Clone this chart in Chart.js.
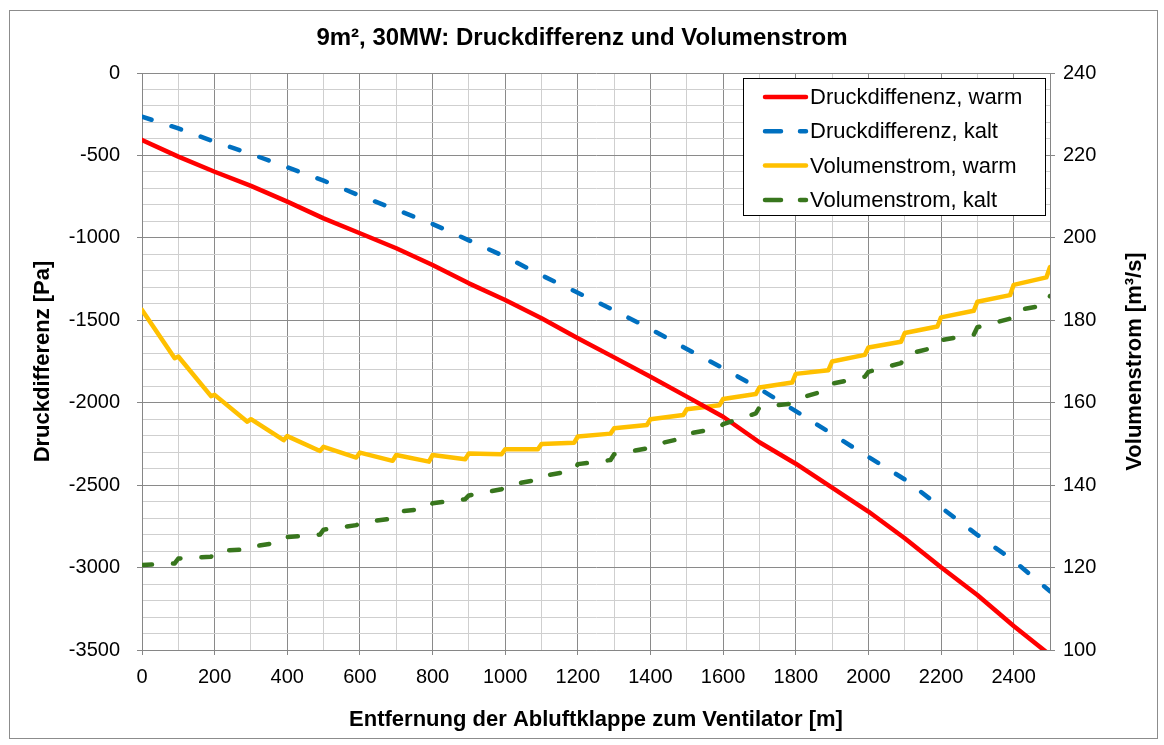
<!DOCTYPE html>
<html><head><meta charset="utf-8">
<script src="https://cdn.jsdelivr.net/npm/chart.js@4.4.1/dist/chart.umd.min.js"></script>
<style>
html,body{margin:0;padding:0;background:#fff;}
#wrap{position:relative;width:1164px;height:745px;}
#frame{position:absolute;left:9px;top:10px;width:1149px;height:729px;border:1px solid #8c8c8c;box-sizing:border-box;pointer-events:none;}
canvas{position:absolute;left:0;top:0;}
</style></head><body>
<div id="wrap"><canvas id="c" width="1164" height="745"></canvas><div id="frame"></div></div>
<script>
// ---- data ----
const chartTitle = '9m², 30MW: Druckdifferenz und Volumenstrom';
const xTitle = 'Entfernung der Abluftklappe zum Ventilator [m]';
const yLeftTitle = 'Druckdifferenz [Pa]';
const yRightTitle = 'Volumenstrom [m³/s]';
const seriesNames = ['Druckdiffenenz, warm', 'Druckdifferenz, kalt', 'Volumenstrom, warm', 'Volumenstrom, kalt'];

// pressure series, one value per 100 m
const distances = [0,100,200,300,400,500,600,700,800,900,1000,1100,1200,1300,1400,1500,1600,1700,1800,1900,2000,2100,2200,2300,2400,2500];
const pressureWarm = [-406,-507,-599,-685,-780,-882,-972,-1063,-1165,-1276,-1377,-1488,-1609,-1725,-1842,-1963,-2085,-2240,-2370,-2515,-2660,-2822,-2998,-3166,-3354,-3530];
const pressureCold = [-265,-336,-417,-491,-572,-653,-744,-829,-916,-1015,-1114,-1227,-1333,-1440,-1553,-1674,-1791,-1915,-2051,-2190,-2329,-2465,-2635,-2802,-2958,-3144];

// volume flow: stepwise per 100 m section (value at section start and just before the next step)
const sectionStarts = [0,100,200,300,400,500,600,700,800,900,1000,1100,1200,1300,1400,1500,1600,1700,1800,1900,2000,2100,2200,2300,2400];
const sectionEndOffset = 90;
const flowWarmStart = [182.5,171.2,161.9,156.0,151.9,149.3,147.9,147.3,147.3,147.7,148.7,150.0,151.8,153.8,156.0,158.4,160.9,163.7,167.0,170.0,173.4,176.9,180.7,184.5,188.6];
const flowWarmEnd   = [170.8,161.6,155.4,150.9,148.3,146.7,145.9,145.7,146.3,147.5,148.7,150.3,152.5,154.6,157.0,159.4,162.1,164.9,167.9,171.6,174.8,178.5,182.3,186.1,190.4];
const flowWarmLast = 192.9;
const flowColdStart = [120.6,122.2,124.0,125.0,127.4,129.2,130.9,133.5,135.6,137.5,139.9,142.2,145.1,147.5,149.6,152.4,154.8,158.9,160.8,164.6,167.5,171.6,175.2,178.3,182.3];
const flowColdEnd   = [121.0,122.6,124.4,126.3,128.0,130.3,131.9,134.4,136.6,139.0,141.3,143.5,146.1,148.9,151.4,153.9,157.4,159.8,163.2,166.3,169.6,173.6,176.5,180.4,183.7];
const flowColdLast = 185.9;
const xEnd = 2500;

// ---- build points ----
function pairs(xs, ys){ return xs.map((x,i)=>({x:x, y:ys[i]})); }
function steps(starts, a, b, last){
  const pts = [];
  starts.forEach((s,i)=>{ pts.push({x:s, y:a[i]}); pts.push({x:s+sectionEndOffset, y:b[i]}); });
  pts.push({x:xEnd, y:last});
  return pts;
}

const FONT = "'Liberation Sans', Arial, sans-serif";
const GRID_MAJOR = '#8a8a8a', GRID_MINOR = '#cfcfcf', AXIS = '#868686';
const BOLD = { family: FONT, size: 22, weight: 'bold' };

const boxLegend = {
  id: 'boxLegend',
  afterDatasetsDraw(chart){
    const ctx = chart.ctx, ca = chart.chartArea;
    const w = 302, h = 137;
    const x0 = ca.right - w - 5, y0 = ca.top + 5;
    ctx.save();
    ctx.fillStyle = '#fff';
    ctx.fillRect(x0, y0, w, h);
    ctx.strokeStyle = '#000'; ctx.lineWidth = 1;
    ctx.strokeRect(x0 + 0.5, y0 + 0.5, w, h);
    ctx.font = '22px ' + FONT;
    ctx.textBaseline = 'middle';
    ctx.fillStyle = '#000';
    chart.data.datasets.forEach((ds, i) => {
      const cy = y0 + 19 + i * 34.3;
      ctx.beginPath();
      ctx.strokeStyle = ds.borderColor;
      ctx.lineWidth = ds.borderWidth;
      ctx.lineCap = 'round';
      if (ds.borderDash && ds.borderDash.length) {
        ctx.moveTo(x0 + 22, cy); ctx.lineTo(x0 + 38, cy);
        ctx.moveTo(x0 + 57, cy); ctx.lineTo(x0 + 63, cy);
      } else {
        ctx.moveTo(x0 + 22, cy); ctx.lineTo(x0 + 63, cy);
      }
      ctx.stroke();
      ctx.fillText(ds.label, x0 + 67, cy + 1);
    });
    ctx.restore();
  }
};

// right axis title reads bottom-to-top like the left one
const rightTitle = {
  id: 'rightTitle',
  afterDraw(chart){
    const s = chart.scales.y2, ctx = chart.ctx;
    ctx.save();
    ctx.translate(s.right - 19, (s.top + s.bottom) / 2);
    ctx.rotate(-Math.PI / 2);
    ctx.font = 'bold 22px ' + FONT;
    ctx.fillStyle = '#000';
    ctx.textAlign = 'center';
    ctx.textBaseline = 'middle';
    ctx.fillText(yRightTitle, 0, 0);
    ctx.restore();
  }
};

new Chart(document.getElementById('c'), {
  type: 'line',
  data: {
    datasets: [
      { label: seriesNames[0], data: pairs(distances, pressureWarm), yAxisID: 'y', borderColor: '#ff0000', borderWidth: 4.5, order: 1 },
      { label: seriesNames[1], data: pairs(distances, pressureCold), yAxisID: 'y', borderColor: '#0070c0', borderWidth: 4.5, borderDash: [10, 21], order: 3 },
      { label: seriesNames[2], data: steps(sectionStarts, flowWarmStart, flowWarmEnd, flowWarmLast), yAxisID: 'y2', borderColor: '#ffc000', borderWidth: 4.5, order: 2 },
      { label: seriesNames[3], data: steps(sectionStarts, flowColdStart, flowColdEnd, flowColdLast), yAxisID: 'y2', borderColor: '#38761d', borderWidth: 4.5, borderDash: [10, 21], order: 0 }
    ]
  },
  options: {
    responsive: false,
    animation: false,
    events: [],
    elements: { point: { radius: 0 }, line: { tension: 0, borderCapStyle: 'round', borderJoinStyle: 'round' } },
    layout: { padding: { left: 10, right: 10, top: 10, bottom: 10 } },
    plugins: {
      legend: { display: false },
      tooltip: { enabled: false },
      title: { display: true, text: chartTitle, color: '#000', font: { family: FONT, size: 24, weight: 'bold' }, padding: { top: 13.6, bottom: 20.6 } }
    },
    scales: {
      x: {
        type: 'linear', min: 0, max: xEnd,
        afterFit(s){ s.height = 85; },
        ticks: { stepSize: 100, autoSkip: false, maxRotation: 0, includeBounds: false, color: '#000', padding: 10,
          font: { family: FONT, size: 20 },
          callback: v => (v % 200 === 0 ? String(v) : '') },
        grid: { color: c => (c.tick && c.tick.value % 200 === 0 ? GRID_MAJOR : GRID_MINOR), lineWidth: 1, tickLength: 5,
          tickColor: c => (c.tick && c.tick.value % 200 === 0 ? AXIS : 'rgba(0,0,0,0)') },
        border: { display: true, color: AXIS, width: 1 },
        title: { display: true, text: xTitle, color: '#000', font: BOLD, padding: { top: 0, bottom: 2 } }
      },
      y: {
        position: 'left', min: -3500, max: 0,
        afterFit(s){ s.width = 132; },
        ticks: { stepSize: 100, autoSkip: false, color: '#000', padding: 17, font: { family: FONT, size: 20 },
          callback: v => (v % 500 === 0 ? String(v) : '') },
        grid: { color: c => (c.tick && c.tick.value % 500 === 0 ? GRID_MAJOR : GRID_MINOR), lineWidth: 1, tickLength: 5,
          tickColor: c => (c.tick && c.tick.value % 500 === 0 ? AXIS : 'rgba(0,0,0,0)') },
        border: { display: true, color: AXIS, width: 1 },
        title: { display: true, text: yLeftTitle, color: '#000', font: BOLD, padding: { top: 20, bottom: 0 } }
      },
      y2: {
        position: 'right', min: 100, max: 240,
        afterFit(s){ s.width = 104; },
        ticks: { stepSize: 20, color: '#000', padding: 8, font: { family: FONT, size: 20 } },
        grid: { drawOnChartArea: false, tickLength: 5, color: AXIS },
        border: { display: true, color: AXIS, width: 1 },
        title: { display: false }
      }
    }
  },
  plugins: [boxLegend, rightTitle]
});
</script>
</body></html>
